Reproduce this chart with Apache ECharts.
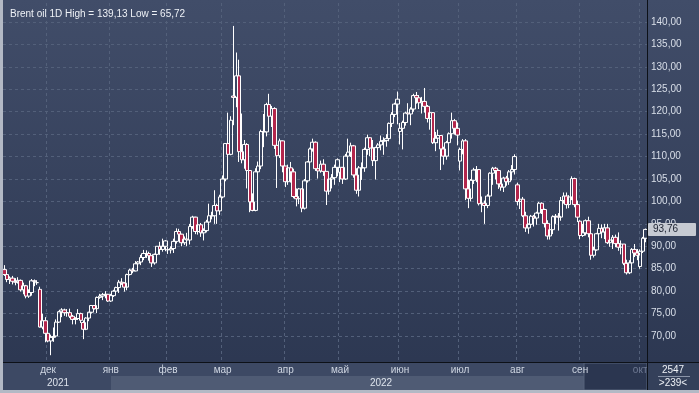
<!DOCTYPE html>
<html><head><meta charset="utf-8">
<script src="https://cdn.jsdelivr.net/npm/echarts@6/dist/echarts.min.js"></script>
<style>html,body{margin:0;padding:0;background:#2d3852;}#c{width:699px;height:393px;}</style>
</head><body><div id="c"></div>
<script>
// ---- categories (trading days) ----
const monthKeys = ['2021-11','2021-12','2022-01','2022-02','2022-03','2022-04','2022-05','2022-06','2022-07','2022-08','2022-09','2022-10'];
const monthDays = [
  [9,10,11,12,15,16,17,18,19,22,23,24,25,26,29,30],
  [1,2,3,6,7,8,9,10,13,14,15,16,17,20,21,22,23,24,27,28,29,30,31],
  [3,4,5,6,7,10,11,12,13,14,17,18,19,20,21,24,25,26,27,28,31],
  [1,2,3,4,7,8,9,10,11,14,15,16,17,18,21,22,23,24,25,28],
  [1,2,3,4,7,8,9,10,11,14,15,16,17,18,21,22,23,24,25,28,29,30,31],
  [1,4,5,6,7,8,11,12,13,14,18,19,20,21,22,25,26,27,28,29],
  [2,3,4,5,6,9,10,11,12,13,16,17,18,19,20,23,24,25,26,27,30,31],
  [1,2,3,6,7,8,9,10,13,14,15,16,17,20,21,22,23,24,27,28,29,30],
  [1,4,5,6,7,8,11,12,13,14,15,18,19,20,21,22,25,26,27,28,29],
  [1,2,3,4,5,8,9,10,11,12,15,16,17,18,19,22,23,24,25,26,29,30,31],
  [1,2,5,6,7,8,9,12,13,14,15,16,19,20,21,22,23,26,27,28,29,30],
  [3,4,5]
];
const monthNames = ['янв','фев','мар','апр','май','июн','июл','авг','сен','окт','ноя','дек'];
const yearLabels = ['2021','2022'];

// ---- series values ----
const open = [
 84.8,83.7,82.6,82.9,82.1,82.0,82.4,80.3,81.2,78.9,79.7,82.3,81.9,80.4,72.0,73.4,
 70.6,68.9,69.7,70.0,73.1,75.4,75.8,75.2,75.2,74.4,73.7,73.9,75.0,73.0,71.5,74.0,75.3,76.8,76.1,78.6,78.9,79.2,79.3,
 77.8,79.0,80.0,80.8,82.0,81.8,80.9,83.7,84.7,84.5,86.1,86.5,87.5,88.4,88.4,87.9,86.3,88.2,90.0,89.3,90.0,
 89.3,89.2,89.5,91.1,93.3,92.7,90.8,91.6,91.4,94.4,96.5,93.3,94.8,93.0,93.5,95.4,96.8,96.8,99.1,97.9,
 101.0,105.0,112.9,110.5,123.5,123.2,128.0,111.1,109.3,112.7,106.9,99.9,98.0,106.6,107.9,115.6,115.5,121.6,119.0,120.7,112.5,110.2,113.5,
 107.9,104.4,107.5,106.6,101.1,100.6,102.8,98.5,104.6,108.8,111.7,113.2,107.3,106.8,108.3,106.7,102.3,105.0,105.3,107.6,
 106.5,107.6,105.0,110.1,111.0,112.4,105.9,102.5,107.5,107.5,111.6,114.2,111.9,109.1,112.0,112.6,113.4,113.6,114.0,117.4,119.4,121.7,
 115.6,116.3,117.6,119.7,119.5,120.6,123.6,123.1,122.0,122.3,121.2,118.5,119.8,113.1,114.1,114.7,111.7,110.1,113.1,115.1,118.0,116.3,
 109.0,111.6,113.5,102.8,100.7,104.7,107.0,107.1,99.5,99.6,99.1,101.2,106.3,107.4,106.9,103.9,103.2,105.2,104.4,106.6,107.1,
 103.7,100.0,100.5,96.8,94.1,94.9,96.7,96.3,97.4,99.6,98.2,95.1,92.3,93.7,96.6,96.7,96.5,100.2,101.2,99.3,101.0,105.1,99.3,
 95.6,92.4,93.0,95.7,92.8,88.0,89.2,92.8,94.0,93.2,94.1,90.8,91.4,92.0,90.6,89.8,90.5,86.2,84.1,86.3,89.3,88.5,
 85.5,88.9,91.8
];
const high = [
 85.8,84.2,83.3,83.4,82.9,83.1,82.6,81.9,81.4,80.4,82.7,82.6,82.4,81.0,75.0,74.2,
 72.6,70.3,71.9,73.7,75.6,76.2,76.1,76.0,76.1,74.7,74.2,76.0,75.2,73.5,74.2,75.4,76.9,76.9,78.8,79.4,79.6,80.0,79.3,
 79.4,80.3,81.0,82.5,82.9,82.0,83.9,85.0,85.2,86.7,86.7,88.1,89.2,89.1,88.8,88.0,88.4,90.0,91.0,91.7,91.4,
 89.9,90.0,91.7,94.0,93.9,92.8,92.2,93.0,95.0,96.8,96.6,95.2,95.2,94.0,95.9,99.5,97.7,102.5,99.5,101.5,
 105.8,113.0,119.8,119.0,139.13,133.2,131.6,119.6,113.7,113.0,107.0,101.8,107.4,108.9,116.0,119.5,122.0,124.0,121.3,121.0,114.0,114.0,113.6,
 107.9,108.2,108.8,107.3,102.9,103.0,102.9,105.0,109.0,112.0,114.0,113.4,108.0,109.1,109.4,106.7,105.3,106.1,108.2,109.6,
 108.3,107.7,110.6,114.0,113.1,112.6,107.4,107.9,108.7,112.0,114.9,114.3,113.7,112.2,113.0,114.7,114.3,115.0,117.6,119.9,122.0,124.5,
 117.5,118.0,120.0,121.9,121.0,124.0,124.4,123.7,123.3,125.3,121.5,120.0,119.9,115.5,116.0,114.8,112.2,113.5,115.4,119.8,118.4,117.6,
 112.0,113.9,113.9,104.9,105.0,107.5,107.9,107.2,101.1,100.2,101.6,106.5,107.7,107.7,107.1,105.4,105.5,105.7,107.0,108.1,110.5,
 104.2,101.8,101.0,97.7,95.1,97.0,97.0,97.7,99.9,99.8,98.4,95.8,94.3,96.9,97.2,97.4,101.0,102.0,102.0,101.4,105.6,105.3,100.2,
 95.8,95.0,96.0,96.6,92.9,89.9,93.0,95.0,94.9,95.0,95.0,91.8,92.5,92.6,93.1,91.3,90.5,87.0,86.9,89.6,90.5,89.4,
 89.3,92.1,93.96
];
const low = [
 83.4,82.0,81.6,81.5,81.3,81.7,79.9,79.3,78.4,78.5,79.0,81.1,81.4,71.9,71.5,68.6,
 68.6,65.72,68.7,69.8,72.9,74.2,74.5,74.3,74.0,72.6,72.6,73.6,72.9,69.3,71.3,73.3,75.0,75.9,75.1,78.3,78.0,78.4,77.6,
 77.6,78.7,79.3,79.6,81.4,79.9,80.2,83.5,84.0,84.4,85.3,85.8,86.9,87.4,86.8,85.4,85.9,87.3,88.1,88.8,88.9,
 88.3,88.4,88.5,90.6,91.9,90.0,90.3,90.0,90.4,93.9,92.7,92.6,92.1,91.3,93.1,94.6,96.0,95.0,95.0,97.0,
 100.7,104.5,109.0,110.3,117.0,121.0,108.8,108.5,107.3,102.9,97.6,97.8,97.8,104.8,107.2,112.1,114.5,117.6,116.6,111.7,103.0,109.7,106.5,
 103.2,103.7,104.2,100.7,98.9,99.4,97.6,98.2,104.2,107.4,111.1,106.8,105.1,106.4,105.7,99.2,101.5,102.9,103.7,105.6,
 104.3,103.9,104.8,108.8,109.9,105.3,101.7,101.1,104.8,106.6,110.4,110.1,107.9,104.9,110.8,111.4,110.4,112.2,113.4,116.6,118.8,117.2,
 112.7,111.6,116.9,118.6,117.0,120.0,121.8,120.6,119.6,119.8,117.6,116.0,112.8,111.2,113.0,107.0,108.2,109.3,112.3,114.0,114.9,112.5,
 106.9,110.5,100.3,98.5,100.0,103.9,104.3,99.1,97.6,95.0,98.5,100.5,103.7,104.9,102.8,102.4,102.1,103.5,103.7,104.7,106.0,
 99.1,98.3,96.5,93.2,92.8,94.4,94.4,94.8,96.7,97.2,94.2,91.5,91.5,92.7,95.0,93.5,95.7,99.5,98.4,98.5,100.3,98.7,95.4,
 91.6,92.1,92.4,92.0,87.0,87.5,89.0,92.3,91.8,91.6,90.5,89.9,89.4,89.8,89.0,88.2,85.8,83.7,83.8,85.4,87.6,86.9,
 85.0,88.5,90.9
];
const close = [
 83.7,82.6,82.9,82.2,82.0,82.4,80.3,81.2,78.9,79.7,82.3,82.2,81.9,72.0,73.4,70.6,
 68.9,69.7,69.9,73.1,75.4,75.8,75.2,75.2,74.4,73.7,73.9,75.0,73.5,71.5,74.0,75.3,76.8,76.1,78.6,78.9,79.2,79.3,77.8,
 79.0,80.0,80.8,82.0,81.8,80.9,83.7,84.7,84.5,86.1,86.5,87.5,88.4,88.4,87.9,86.3,88.2,90.0,89.3,90.0,91.2,
 89.2,89.5,91.1,93.3,92.7,90.8,91.6,91.4,94.4,96.5,93.3,94.8,93.0,93.5,95.4,96.8,96.8,99.1,97.9,101.0,
 105.0,112.9,110.5,118.1,123.2,128.0,111.1,109.3,112.7,106.9,99.9,98.0,106.6,107.9,115.6,115.5,121.6,119.0,120.7,112.5,110.2,113.5,107.9,
 104.4,107.5,106.6,101.1,100.6,102.8,98.5,104.6,108.8,111.7,113.2,107.3,106.8,108.3,106.7,102.3,105.0,105.3,107.6,109.3,
 107.6,105.0,110.1,111.0,112.4,105.9,102.5,107.5,107.5,111.6,114.2,111.9,109.1,112.0,112.6,113.4,113.6,114.0,117.4,119.4,121.7,122.8,
 116.3,117.6,119.7,119.5,120.6,123.6,123.1,122.0,122.3,121.2,118.5,119.8,113.1,114.1,114.7,111.7,110.1,113.1,115.1,118.0,116.3,114.8,
 111.6,113.5,102.8,100.7,104.7,107.0,107.1,99.5,99.6,99.1,101.2,106.3,107.4,106.9,103.9,103.2,105.2,104.4,106.6,107.1,110.0,
 100.0,100.5,96.8,94.1,94.9,96.7,96.3,97.4,99.6,98.2,95.1,92.3,93.7,96.6,96.7,96.5,100.2,101.2,99.3,101.0,105.1,99.3,96.5,
 92.4,93.0,95.7,92.8,88.0,89.2,92.8,94.0,93.2,94.1,90.8,91.4,92.0,90.6,89.8,90.5,86.2,84.1,86.3,89.3,88.5,88.0,
 88.9,91.8,93.76
];

// ---- build ----
const pad = d => (d < 10 ? '0' : '') + d;
const dates = [];
monthKeys.forEach((k, i) => monthDays[i].forEach(d => dates.push(k + '-' + pad(d))));
const monthStart = new Set();
for (let i = 1; i < dates.length; i++) if (dates[i].slice(0, 7) !== dates[i - 1].slice(0, 7)) monthStart.add(i);
const ohlc = dates.map((d, i) => [open[i], close[i], low[i], high[i]]);
const fmt = v => v.toFixed(2).replace('.', ',');
const maxHigh = Math.max(...high), minLow = Math.min(...low);
const lastClose = close[close.length - 1];

const FONT = 'Liberation Sans, Arial, sans-serif';
const GRID_LINE = {color: '#53607a', type: [3, 3], width: 1};
const chart = echarts.init(document.getElementById('c'), null, {renderer: 'canvas'});
chart.setOption({
  animation: false,
  backgroundColor: 'transparent',
  title: {
    text: `Brent oil 1D High = ${fmt(maxHigh)} Low = ${fmt(minLow)}`,
    left: 5, top: 4,
    textStyle: {color: '#eef1f6', fontSize: 10, fontWeight: 'normal', fontFamily: FONT}
  },
  graphic: [
    {type: 'rect', z: -100, shape: {x: 0, y: 0, width: 699, height: 393},
     style: {fill: new echarts.graphic.LinearGradient(0, 0, 0, 1, [{offset: 0, color: '#414d69'}, {offset: 1, color: '#2b3650'}])}},
    {type: 'rect', z: -90, shape: {x: 0, y: 363, width: 699, height: 27}, style: {fill: '#3d4964'}},
    {type: 'rect', z: -89, shape: {x: 111, y: 376, width: 473, height: 14}, style: {fill: '#4f5b74'}},
    {type: 'rect', z: -88, shape: {x: 584, y: 363, width: 63, height: 27}, style: {fill: '#2b3650', stroke: '#56627a', lineWidth: 1}},
    {type: 'rect', z: -88, shape: {x: 647, y: 363, width: 52, height: 27}, style: {fill: '#34405a'}},
    {type: 'line', z: 50, shape: {x1: 0, y1: 362.5, x2: 699, y2: 362.5}, style: {stroke: '#0d1118', lineWidth: 1}},
    {type: 'line', z: 50, shape: {x1: 647.5, y1: 0, x2: 647.5, y2: 390}, style: {stroke: '#0d1118', lineWidth: 1}},
    {type: 'line', z: 50, shape: {x1: 658, y1: 376.5, x2: 690, y2: 376.5}, style: {stroke: '#8a94a8', lineWidth: 1}},
    {type: 'text', z: 50, x: 58, y: 383, style: {text: yearLabels[0], fill: '#dde3ec', font: '10px ' + FONT, align: 'center', verticalAlign: 'middle'}},
    {type: 'text', z: 50, x: 381, y: 383, style: {text: yearLabels[1], fill: '#dde3ec', font: '10px ' + FONT, align: 'center', verticalAlign: 'middle'}},
    {type: 'text', z: 50, x: 673, y: 370, style: {text: '2547', fill: '#eef1f6', font: '10px ' + FONT, align: 'center', verticalAlign: 'middle'}},
    {type: 'text', z: 50, x: 673, y: 383, style: {text: '>239<', fill: '#eef1f6', font: '10px ' + FONT, align: 'center', verticalAlign: 'middle'}},
    {type: 'rect', z: 60, shape: {x: 0, y: 0, width: 3, height: 393}, style: {fill: '#b3b9c5'}},
    {type: 'rect', z: 60, shape: {x: 0, y: 390, width: 699, height: 3}, style: {fill: '#b3b9c5'}}
  ],
  grid: [
    {left: 3, right: 52, top: 3, bottom: 36, containLabel: false},   // price panel (70..140 scale)
    {left: 3, right: 52, top: 3, bottom: 31, containLabel: false}    // time axis panel
  ],
  xAxis: [
    {type: 'category', gridIndex: 0, data: dates, boundaryGap: true,
     axisLine: {show: false}, axisTick: {show: false}, axisLabel: {show: false}, splitLine: {show: false}},
    {type: 'category', gridIndex: 1, data: dates, boundaryGap: true,
     axisLine: {show: false}, axisTick: {show: false},
     axisLabel: {
       interval: idx => monthStart.has(idx),
       formatter: v => monthNames[parseInt(v.slice(5, 7), 10) - 1],
       color: v => (v.slice(0, 7) === '2022-10' ? '#6f7a93' : '#cfd6e2'),
       fontSize: 10, fontFamily: FONT, margin: 3
     },
     splitLine: {show: true, interval: idx => monthStart.has(idx), lineStyle: GRID_LINE}}
  ],
  yAxis: [
    {type: 'value', gridIndex: 0, position: 'right', scale: true,
     min: 65.32, max: 144.24, splitNumber: 16, minInterval: 5, maxInterval: 5,
     axisLine: {show: false}, axisTick: {show: false},
     axisLabel: {color: '#d9dfe9', fontSize: 10, fontFamily: FONT, margin: 4, align: 'left',
       formatter: v => fmt(v), showMinLabel: false, showMaxLabel: false},
     splitLine: {show: true, showMinLine: false, showMaxLine: false, lineStyle: GRID_LINE}},
    {type: 'value', gridIndex: 1, show: false, min: 0, max: 1, splitLine: {show: false}}
  ],
  series: [{
    type: 'candlestick', xAxisIndex: 0, yAxisIndex: 0, data: ohlc, barWidth: 4,
    itemStyle: {color: 'rgba(0,0,0,0)', color0: '#b3264c', borderColor: '#ffffff', borderColor0: '#ffffff', borderWidth: 1},
    markLine: {
      silent: true, symbol: 'none', animation: false,
      lineStyle: {color: 'rgba(0,0,0,0)', width: 0},
      data: [{yAxis: lastClose}],
      label: {show: true, position: 'end', distance: 1, formatter: fmt(lastClose),
        backgroundColor: '#c6cad2', color: '#1b2130', fontSize: 10, fontFamily: FONT,
        padding: [2, 18, 1, 5], borderRadius: 1}
    }
  }]
});
</script></body></html>
